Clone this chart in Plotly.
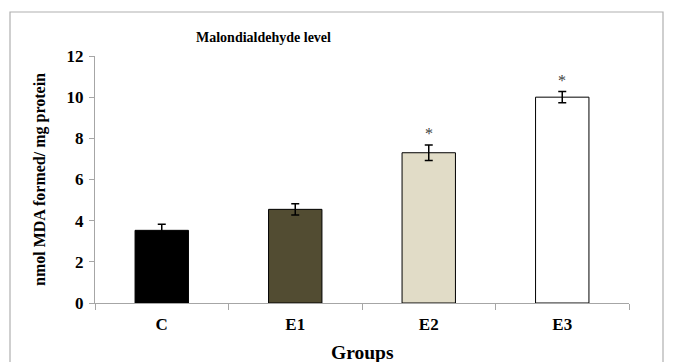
import plotly.graph_objects as go

groups = ["C", "E1", "E2", "E3"]
mda = [3.53, 4.55, 7.30, 10.0]
sem = [0.30, 0.27, 0.38, 0.27]
bar_colors = ["#000000", "#524c32", "#e1dcc7", "#ffffff"]
signif = ["", "", "*", "*"]
y_ticks = [0, 2, 4, 6, 8, 10, 12]

FONT = "Liberation Serif"
GRID = "#a6a6a6"

fig = go.Figure()
fig.add_trace(go.Bar(
    x=groups, y=mda,
    marker=dict(color=bar_colors, line=dict(color="#000000", width=1)),
    width=0.4,
    error_y=dict(type="data", array=sem, visible=True, color="#000000",
                 thickness=1.5, width=4),
    showlegend=False,
))

for g, v, e, s in zip(groups, mda, sem, signif):
    if s:
        fig.add_annotation(x=g, y=v + e, text=s, showarrow=False,
                           yanchor="bottom", yshift=1,
                           font=dict(family=FONT, size=16, color="#404040"))

# title
fig.add_annotation(xref="paper", yref="paper", x=(263 - 95) / 534, y=(303 - 38) / 247,
                   text="<b>Malondialdehyde level</b>", showarrow=False,
                   xanchor="center", yanchor="middle",
                   font=dict(family=FONT, size=14, color="#000000"))

# y-axis title
fig.add_annotation(xref="paper", yref="paper", x=(40 - 95) / 534, y=(303 - 180) / 247,
                   text="<b>nmol MDA formed/ mg protein</b>", showarrow=False,
                   textangle=-90, xanchor="center", yanchor="middle",
                   font=dict(family=FONT, size=16, color="#000000"))

# x-axis title
fig.add_annotation(xref="paper", yref="paper", x=(362 - 95) / 534, y=(303 - 352) / 247,
                   text="<b>Groups</b>", showarrow=False,
                   xanchor="center", yanchor="middle",
                   font=dict(family=FONT, size=19.5, color="#000000"))

# outer border
fig.add_shape(type="rect", xref="paper", yref="paper",
              x0=(10 - 95) / 534, x1=(663 - 95) / 534,
              y0=(303 - 380) / 247, y1=(303 - 12) / 247,
              line=dict(color="#b0b0b0", width=1.2), fillcolor="rgba(0,0,0,0)",
              layer="below")

fig.update_layout(
    width=665, height=354,
    margin=dict(l=87, r=44, t=48, b=59, autoexpand=False),
    plot_bgcolor="#ffffff", paper_bgcolor="#ffffff",
    font=dict(family=FONT, color="#000000"),
    bargap=0.6,
)
fig.update_xaxes(
    type="category", automargin=False,
    showline=True, linecolor=GRID, linewidth=1.2,
    ticks="outside", tickson="boundaries", ticklen=6, tickcolor=GRID, tickwidth=1,
    tickfont=dict(family=FONT, size=17, color="#000000", weight="bold"),
    ticklabelstandoff=5,
    showgrid=False, zeroline=False,
)
fig.update_yaxes(
    range=[0, 12], tickvals=y_ticks, automargin=False,
    showline=True, linecolor=GRID, linewidth=1.2,
    ticks="outside", ticklen=5, tickcolor=GRID, tickwidth=1,
    tickfont=dict(family=FONT, size=17, color="#000000", weight="bold"),
    ticklabelstandoff=2,
    showgrid=False, zeroline=False,
)

fig.write_html("out.html")
